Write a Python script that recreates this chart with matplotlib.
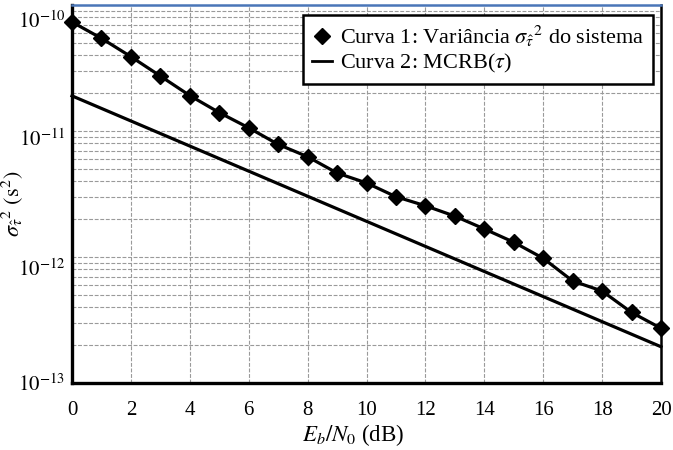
import matplotlib
matplotlib.use("Agg")
import matplotlib.pyplot as plt
from matplotlib.lines import Line2D
from matplotlib.ticker import LogLocator, NullFormatter, FixedLocator
from matplotlib.transforms import ScaledTranslation

plt.rcParams['font.family'] = ['Liberation Serif', 'DejaVu Serif']
plt.rcParams['mathtext.fontset'] = 'stix'

# ---- data ----
ebn0_db = list(range(0, 21))
curva1_var = [7.33e-11, 5.44e-11, 3.89e-11, 2.73e-11, 1.91e-11, 1.40e-11, 1.06e-11,
              7.83e-12, 6.25e-12, 4.64e-12, 3.87e-12, 3.01e-12, 2.55e-12, 2.11e-12,
              1.67e-12, 1.31e-12, 9.77e-13, 6.45e-13, 5.37e-13, 3.63e-13, 2.72e-13]
mcrb_x = [0, 20]
mcrb_y = [1.90e-11, 1.94e-13]
xticks = list(range(0, 21, 2))
yticks = [1e-13, 1e-12, 1e-11, 1e-10]
ytick_labels = [r'$10^{-13}$', r'$10^{-12}$', r'$10^{-11}$', r'$10^{-10}$']
label1 = r'Curva 1: Variância $\sigma_{\hat{\tau}}{}^{2}$ do sistema'
label2 = r'Curva 2: MCRB($\tau$)'

fig = plt.figure(figsize=(6.73, 4.5), dpi=100)
ax = fig.add_axes([72/673, 1-383/450, (661-72)/673, (383-5)/450])

ax.plot(ebn0_db, curva1_var, color='black', lw=2.3, marker='D', markersize=8,
        clip_on=False, zorder=5)
ax.plot(mcrb_x, mcrb_y, color='black', lw=2.3, clip_on=False, zorder=4)

ax.set_yscale('log')
ax.set_xlim(0, 20)
ax.set_ylim(1e-13, 1e-10)
ax.set_xticks(xticks)
ax.set_xticklabels([str(t) for t in xticks])
ax.yaxis.set_major_locator(FixedLocator(yticks))
ax.set_yticklabels(ytick_labels)
ax.yaxis.set_minor_locator(LogLocator(base=10, subs=range(2, 10), numticks=20))
ax.yaxis.set_minor_formatter(NullFormatter())

ax.tick_params(axis='x', which='both', length=0, pad=13, labelsize=15)
ax.tick_params(axis='y', which='both', length=0, pad=5, labelsize=15)

gkw = dict(color='#9a9a9a', lw=0.8, linestyle=(0, (3.5, 1.5)))
ax.grid(True, which='major', axis='x', **gkw)
ax.grid(True, which='both', axis='y', **gkw)
ax.set_axisbelow(True)

for side in ['left', 'bottom']:
    ax.spines[side].set_linewidth(2.4)
    ax.spines[side].set_color('black')
ax.spines['right'].set_linewidth(1.8)
ax.spines['right'].set_color('black')
ax.spines['top'].set_linewidth(1.8)
ax.spines['top'].set_color('#4a76b8')

# vertical offsets of y tick labels (pixels downward), as in the reference
offsets = {1e-13: 0, 1e-12: 11, 1e-11: 7, 1e-10: 15}
for tick, loc in zip(ax.yaxis.get_major_ticks(), yticks):
    dy = offsets[loc]
    tick.label1.set_transform(tick.label1.get_transform() +
                              ScaledTranslation(0, -dy/100, fig.dpi_scale_trans))

ax.set_xlabel(r'$E_b/N_0$ (dB)', fontsize=16.5)
ax.xaxis.set_label_coords((353-72)/589, (383-422)/378)
ax.set_ylabel(r'$\sigma_{\hat{\tau}}{}^{2}\ (\mathrm{s}^{2})$', fontsize=16)
ax.yaxis.set_label_coords((25-72)/589, (383-204)/378)

h1 = Line2D([], [], color='black', linestyle='none', marker='D', markersize=8)
h2 = Line2D([], [], color='black', lw=2.0)
leg = ax.legend([h1, h2], [label1, label2], loc='upper right',
                bbox_to_anchor=(0.986, 0.974), borderaxespad=0,
                fontsize=16, frameon=True, fancybox=False, framealpha=1,
                edgecolor='black', handlelength=0.9, handletextpad=0.35,
                labelspacing=0.15, borderpad=0.4)
leg.get_frame().set_linewidth(1.8)
leg.set_zorder(10)

fig.savefig('out.png', dpi=100)
